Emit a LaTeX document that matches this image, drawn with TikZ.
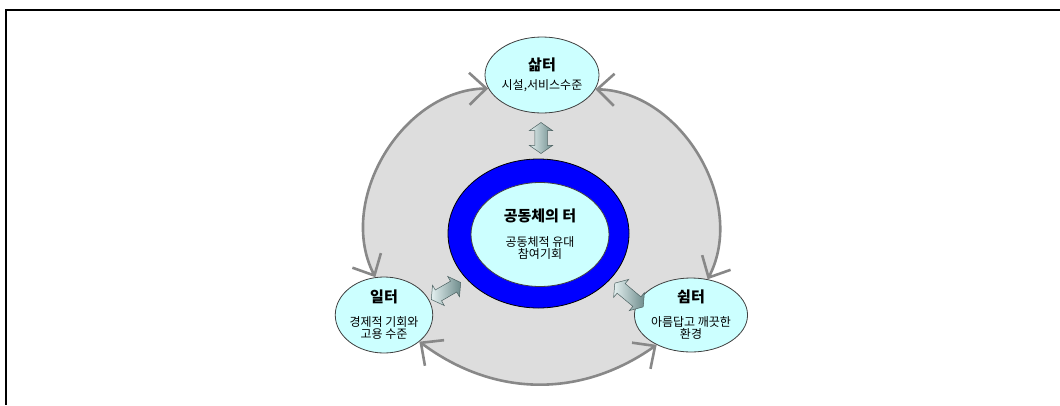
\documentclass[tikz,border=0pt]{standalone}
\usepackage{fontspec}
\setmainfont{Noto Sans CJK KR}
\usetikzlibrary{arrows.meta,shapes.geometric,shapes.arrows,backgrounds}
\definecolor{skycyan}{HTML}{CCFFFF}
\definecolor{ringblue}{HTML}{0000FF}
\definecolor{loopgray}{HTML}{888888}
\definecolor{fillgray}{HTML}{DDDDDD}
\definecolor{tealdark}{HTML}{6E8C8C}
\definecolor{teallight}{HTML}{E4F0F0}
\def\placetitle{\fontsize{15}{15}\selectfont\bfseries}
\def\placetext{\fontsize{12}{12}\selectfont}
\tikzset{
	place/.style={ellipse, draw=black!75, line width=0.8pt, fill=skycyan, inner sep=0pt, align=center, font=\placetext},
	loop arc/.style={draw=loopgray, line width=2.6pt, {Straight Barb[length=17pt,width=32pt]}-{Straight Barb[length=17pt,width=32pt]}},
	link/.style={double arrow, draw=tealdark!70!black, line width=0.5pt, left color=teallight, right color=tealdark, minimum width=23pt, double arrow head extend=5.5pt, double arrow tip angle=110, inner xsep=0pt, inner ysep=6pt},
}

\begin{document}
\begin{tikzpicture}[x=1pt,y=-1pt]
		%%%%% START %%%%%
		\useasboundingbox (0,0) rectangle (1060,405);
		\draw[line width=1.6pt] (1060,10) -- (6,10) -- (6,405);
		
		\node[place, minimum width=96pt, minimum height=76pt] (sam) at (542,75) {{\placetitle 삶터}\\[7pt]시설,서비스수준};
		\node[place, minimum width=92pt, minimum height=76pt] (il) at (384,315) {{\placetitle 일터}\\[12pt]경제적 기회와\\고용 수준};
		\node[place, minimum width=94pt, minimum height=74pt] (swim) at (691,315) {{\placetitle 쉼터}\\[12pt]아름답고 깨끗한\\환경};
		
		\node[ellipse, draw=black, line width=0.8pt, fill=ringblue, minimum width=181pt, minimum height=149pt] (ring) at (538.5,233.5) {};
		\node[place, minimum width=138pt, minimum height=104pt] (core) at (540,234.5) {{\placetitle 공동체의 터}\\[13pt]공동체적 유대\\참여기회};
		
		\node[link, minimum height=31pt, rotate=90] (uplink) at (541,138) {};
		\node[link, minimum height=34pt, rotate=30] (leftlink) at (446,291) {};
		\node[link, minimum height=37pt, rotate=-40] (rightlink) at (629,295) {};
		
		\begin{scope}[on background layer]
			\fill[fillgray] (il.103) to[bend left=58] (sam.194) -- (sam.345) to[bend left=58] (swim.65) -- (swim.221) to[bend left=36] (il.323) -- cycle;
		\end{scope}
		
		\draw[loop arc] (il.103) to[bend left=58] (sam.194);
		\draw[loop arc] (sam.345) to[bend left=58] (swim.65);
		\draw[loop arc] (swim.221) to[bend left=36] (il.323);
		%%%%% END %%%%%
\end{tikzpicture}
\end{document}
